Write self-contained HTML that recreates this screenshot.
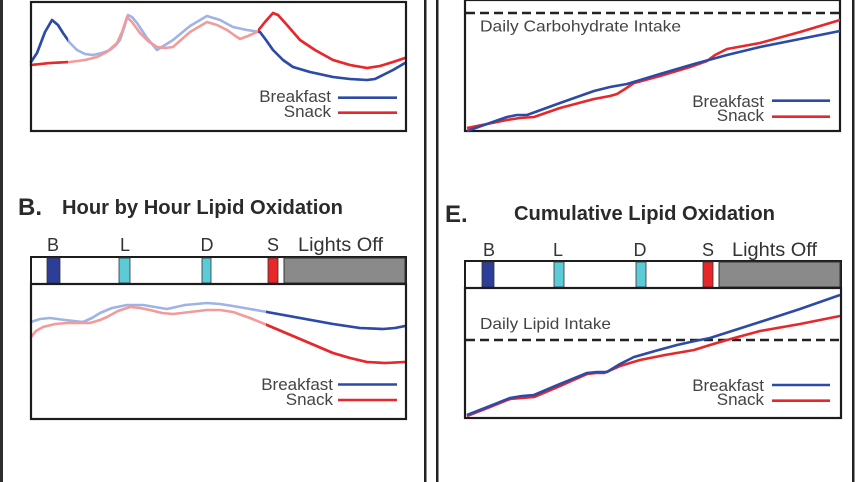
<!DOCTYPE html>
<html><head><meta charset="utf-8"><style>
html,body{margin:0;padding:0;background:#fff;}
svg{display:block;}
text{font-family:"Liberation Sans",Arial,sans-serif;}
</style></head><body>
<svg width="857" height="482" viewBox="0 0 857 482" xmlns="http://www.w3.org/2000/svg">
<defs>
<clipPath id="aDark"><rect x="0" y="0" width="68" height="140"/><rect x="258" y="0" width="160" height="140"/></clipPath>
<clipPath id="bDark"><rect x="266" y="280" width="160" height="150"/></clipPath>
</defs>
<rect width="857" height="482" fill="#fff"/>
<!-- outer borders -->
<rect x="0" y="0" width="3" height="482" fill="#2e2e2e"/>
<rect x="424" y="0" width="2.5" height="482" fill="#222"/>
<rect x="436" y="0" width="2.5" height="482" fill="#222"/>
<rect x="852" y="0" width="2.5" height="482" fill="#222"/>

<!-- ===== Panel A (top-left) ===== -->
<g fill="none" stroke-linejoin="round" stroke-linecap="round" stroke-width="2.6">
<polyline stroke="#9fb3e6" points="31,62 37,53 45,32 52,20 58,25 63,33 70,43 77,50 85,54 93,55 102,53 110,50 116,45 120,40 124,28 128,15 132,17 137,23 147,38 157,50 165,45 173,40 190,26 207,16 220,20 233,27 247,30 260,32 266,40 273,50 283,60 293,67 310,72 333,77 350,79 367,80 375,79 383,75 393,70 405,63"/>
<polyline stroke="#f39a9a" points="31,65 50,63 70,62 85,60 97,57 107,52 117,43 122,32 127,17 132,22 140,33 148,41 157,47 165,48 173,47 190,32 207,22 217,25 227,30 234,35 240,39 248,36 257,32 265,22 273,13 278,15 287,25 300,40 315,50 333,60 350,65 367,68 380,66 393,62 405,58"/>
<g clip-path="url(#aDark)">
<polyline stroke="#2c4aa6" points="31,62 37,53 45,32 52,20 58,25 63,33 70,43 77,50 85,54 93,55 102,53 110,50 116,45 120,40 124,28 128,15 132,17 137,23 147,38 157,50 165,45 173,40 190,26 207,16 220,20 233,27 247,30 260,32 266,40 273,50 283,60 293,67 310,72 333,77 350,79 367,80 375,79 383,75 393,70 405,63"/>
<polyline stroke="#e8272b" points="31,65 50,63 70,62 85,60 97,57 107,52 117,43 122,32 127,17 132,22 140,33 148,41 157,47 165,48 173,47 190,32 207,22 217,25 227,30 234,35 240,39 248,36 257,32 265,22 273,13 278,15 287,25 300,40 315,50 333,60 350,65 367,68 380,66 393,62 405,58"/>
</g>
</g>
<rect x="31" y="2" width="375" height="129" fill="none" stroke="#1c1c1c" stroke-width="2.2"/>
<text x="331" y="102" font-size="17" fill="#444" text-anchor="end">Breakfast</text>
<text x="331" y="117" font-size="17" fill="#444" text-anchor="end">Snack</text>
<line x1="338" y1="97.7" x2="397" y2="97.7" stroke="#2c4aa6" stroke-width="2.6"/>
<line x1="338" y1="112.7" x2="397" y2="112.7" stroke="#e8272b" stroke-width="2.6"/>

<!-- ===== Panel D (top-right) ===== -->
<rect x="465" y="0" width="375" height="131" fill="none" stroke="#1c1c1c" stroke-width="2.2"/>
<line x1="466" y1="13" x2="840" y2="13" stroke="#222" stroke-width="2.4" stroke-dasharray="9,5"/>
<text x="480" y="31.5" font-size="16" fill="#444" textLength="201" lengthAdjust="spacingAndGlyphs">Daily Carbohydrate Intake</text>
<g fill="none" stroke-linejoin="round" stroke-width="2.6">
<polyline stroke="#e8272b" points="467,128 487,124 507,120 520,118 534,117 560,108 594,99 610,96 617,94 625,89 634,83 660,76 690,67 707,61 715,55 727,49 760,43 800,32 840,20"/>
<polyline stroke="#2c4aa6" points="467,131 487,124 507,117 517,115 527,115 560,103 594,91 610,87 627,84 660,74 694,64 727,55 760,47 800,39 840,31"/>
</g>
<text x="764" y="107" font-size="17" fill="#444" text-anchor="end">Breakfast</text>
<text x="764" y="121" font-size="17" fill="#444" text-anchor="end">Snack</text>
<line x1="772" y1="100.7" x2="830" y2="100.7" stroke="#2c4aa6" stroke-width="2.6"/>
<line x1="772" y1="116.7" x2="830" y2="116.7" stroke="#e8272b" stroke-width="2.6"/>

<!-- ===== Panel B (bottom-left) ===== -->
<text x="18" y="215" font-size="24" font-weight="bold" fill="#2a2a2a">B.</text>
<text x="62" y="214" font-size="20" font-weight="bold" fill="#2a2a2a" textLength="281" lengthAdjust="spacingAndGlyphs">Hour by Hour Lipid Oxidation</text>
<g font-size="18" fill="#333" text-anchor="middle">
<text x="53" y="251">B</text>
<text x="125" y="251">L</text>
<text x="207" y="251">D</text>
<text x="273" y="251">S</text>
</g>
<text x="298" y="251" font-size="19" fill="#333" textLength="85" lengthAdjust="spacingAndGlyphs">Lights Off</text>
<rect x="31" y="257" width="375" height="27" fill="#fff" stroke="#1c1c1c" stroke-width="2"/>
<rect x="47" y="258" width="13" height="25" fill="#2d3e98" stroke="#333" stroke-width="0.8"/>
<rect x="119" y="258" width="11" height="25" fill="#5ccbd8" stroke="#333" stroke-width="0.8"/>
<rect x="202" y="258" width="9" height="25" fill="#5ccbd8" stroke="#333" stroke-width="0.8"/>
<rect x="268" y="258" width="10" height="25" fill="#e8272b" stroke="#333" stroke-width="0.8"/>
<rect x="284" y="258" width="121" height="25" fill="#8a8a8a" stroke="#333" stroke-width="1"/>
<g fill="none" stroke-linejoin="round" stroke-linecap="round" stroke-width="2.6">
<polyline stroke="#9fb3e6" points="31,322 40,319 50,318 65,320 83,322 92,318 100,313 112,308 127,305 143,305 155,307 167,309 185,305 207,303 220,304 233,306 250,309 267,312 300,318 333,324 360,328 383,329 395,328 405,326"/>
<polyline stroke="#f39a9a" points="31,337 36,331 43,327 55,324 67,323 80,323 90,323 100,320 107,317 118,311 130,307 140,308 150,310 162,313 173,314 190,312 207,310 220,310 233,312 250,318 267,325 300,339 333,353 350,358 367,362 385,363 405,362"/>
<g clip-path="url(#bDark)">
<polyline stroke="#2c4aa6" points="31,322 40,319 50,318 65,320 83,322 92,318 100,313 112,308 127,305 143,305 155,307 167,309 185,305 207,303 220,304 233,306 250,309 267,312 300,318 333,324 360,328 383,329 395,328 405,326"/>
<polyline stroke="#e8272b" points="31,337 36,331 43,327 55,324 67,323 80,323 90,323 100,320 107,317 118,311 130,307 140,308 150,310 162,313 173,314 190,312 207,310 220,310 233,312 250,318 267,325 300,339 333,353 350,358 367,362 385,363 405,362"/>
</g>
</g>
<rect x="31" y="284" width="375" height="135" fill="none" stroke="#1c1c1c" stroke-width="2.2"/>
<text x="333" y="390" font-size="17" fill="#444" text-anchor="end">Breakfast</text>
<text x="333" y="405" font-size="17" fill="#444" text-anchor="end">Snack</text>
<line x1="338" y1="384.5" x2="397" y2="384.5" stroke="#2c4aa6" stroke-width="2.6"/>
<line x1="338" y1="400" x2="397" y2="400" stroke="#e8272b" stroke-width="2.6"/>

<!-- ===== Panel E (bottom-right) ===== -->
<text x="445" y="222" font-size="24" font-weight="bold" fill="#2a2a2a">E.</text>
<text x="514" y="220" font-size="20" font-weight="bold" fill="#2a2a2a" textLength="261" lengthAdjust="spacingAndGlyphs">Cumulative Lipid Oxidation</text>
<g font-size="18" fill="#333" text-anchor="middle">
<text x="489" y="256">B</text>
<text x="558" y="256">L</text>
<text x="640" y="256">D</text>
<text x="708" y="256">S</text>
</g>
<text x="732" y="256" font-size="19" fill="#333" textLength="85" lengthAdjust="spacingAndGlyphs">Lights Off</text>
<rect x="465" y="261" width="376" height="27" fill="#fff" stroke="#1c1c1c" stroke-width="2"/>
<rect x="482" y="262" width="12" height="25" fill="#2d3e98" stroke="#333" stroke-width="0.8"/>
<rect x="554" y="262" width="10" height="25" fill="#5ccbd8" stroke="#333" stroke-width="0.8"/>
<rect x="636" y="262" width="10" height="25" fill="#5ccbd8" stroke="#333" stroke-width="0.8"/>
<rect x="703" y="262" width="10" height="25" fill="#e8272b" stroke="#333" stroke-width="0.8"/>
<rect x="719" y="262" width="121" height="25" fill="#8a8a8a" stroke="#333" stroke-width="1"/>
<line x1="466" y1="340" x2="840" y2="340" stroke="#222" stroke-width="2.4" stroke-dasharray="9,5"/>
<text x="480" y="329" font-size="16" fill="#444" textLength="131" lengthAdjust="spacingAndGlyphs">Daily Lipid Intake</text>
<g fill="none" stroke-linejoin="round" stroke-width="2.6">
<polyline stroke="#e8272b" points="467,416 490,407 510,399 522,398 534,397 560,386 587,374 596,373 604,373 620,366 640,360 665,355 694,350 710,345 727,340 760,331 800,324 840,316"/>
<polyline stroke="#2c4aa6" points="467,415 490,406 510,398 522,396 534,395 560,384 587,373 597,372 607,372 620,364 634,357 655,351 677,345 695,341 710,338 735,330 760,322 800,309 840,295"/>
</g>
<rect x="465" y="288" width="376" height="130" fill="none" stroke="#1c1c1c" stroke-width="2.2"/>
<text x="764" y="391" font-size="17" fill="#444" text-anchor="end">Breakfast</text>
<text x="764" y="405" font-size="17" fill="#444" text-anchor="end">Snack</text>
<line x1="772" y1="385" x2="830" y2="385" stroke="#2c4aa6" stroke-width="2.6"/>
<line x1="772" y1="400.7" x2="830" y2="400.7" stroke="#e8272b" stroke-width="2.6"/>
</svg>
</body></html>
